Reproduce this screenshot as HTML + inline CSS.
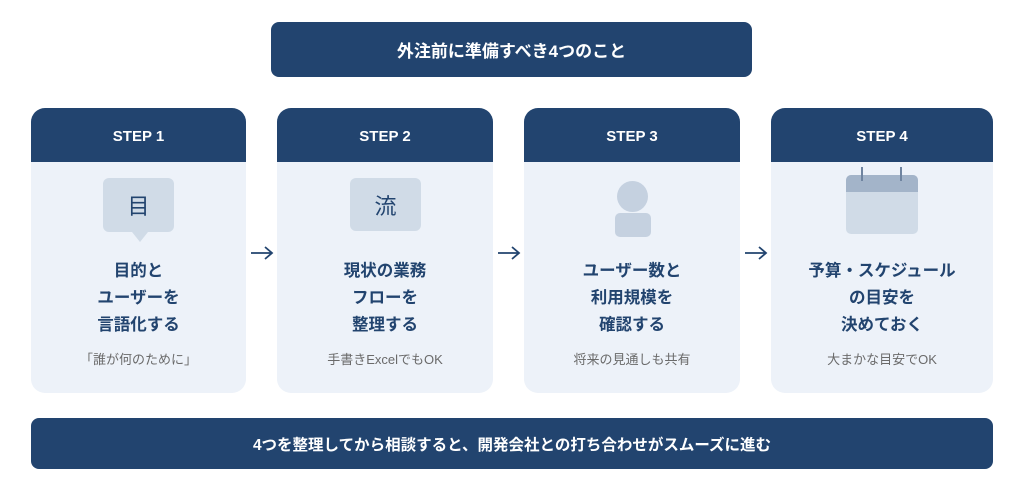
<!DOCTYPE html><html><head><meta charset="utf-8"><style>
*{margin:0;padding:0;box-sizing:border-box}
body{width:1024px;height:485px;background:#fff;font-family:"Liberation Sans","Noto Sans CJK JP",sans-serif;position:relative;overflow:hidden}
.ban{position:absolute;background:#22446f;color:#fff;font-weight:bold;display:flex;align-items:center;justify-content:center;border-radius:8px}
.card{position:absolute;top:108px;height:285px;background:#edf2f9;border-radius:14px;overflow:hidden}
.hd{height:54px;background:#22446f;color:#fff;font-weight:bold;font-size:15px;display:flex;align-items:center;justify-content:center;padding-top:3px}
.t{position:absolute;top:150px;left:0;right:0;text-align:center;color:#22446f;font-weight:bold;font-size:16.5px;line-height:27px}
.s{position:absolute;top:241px;left:0;right:0;text-align:center;color:#6a6a6a;font-size:13px}
.ar{position:absolute;top:245px}
.ic{position:absolute}
</style></head><body>
<div class="ban" style="left:271px;top:22px;width:481px;height:55px;font-size:17px">外注前に準備すべき4つのこと</div>
<div class="card" style="left:31px;width:215px"><div class="hd">STEP 1</div>
<div class="ic" style="left:72px;top:70px;width:71px;height:54px;background:#d0dbe7;border-radius:6px;color:#22446f;font-size:22px;display:flex;align-items:center;justify-content:center">目</div>
<div class="ic" style="left:101px;top:124px;width:0;height:0;border-left:8px solid transparent;border-right:8px solid transparent;border-top:10px solid #d0dbe7"></div>
<div class="t">目的と<br>ユーザーを<br>言語化する</div><div class="s">「誰が何のために」</div></div>
<svg class="ar" style="left:249px" width="26" height="16"><path d="M2 8H23M16 2L23 8L16 14" stroke="#22446f" stroke-width="1.8" fill="none"/></svg>
<div class="card" style="left:277px;width:216px"><div class="hd">STEP 2</div>
<div class="ic" style="left:73px;top:70px;width:71px;height:53px;background:#d0dbe7;border-radius:6px;color:#22446f;font-size:22px;display:flex;align-items:center;justify-content:center">流</div>
<div class="t">現状の業務<br>フローを<br>整理する</div><div class="s">手書きExcelでもOK</div></div>
<svg class="ar" style="left:496px" width="26" height="16"><path d="M2 8H23M16 2L23 8L16 14" stroke="#22446f" stroke-width="1.8" fill="none"/></svg>
<div class="card" style="left:524px;width:216px"><div class="hd">STEP 3</div>
<div class="ic" style="left:93px;top:73px;width:31px;height:31px;border-radius:50%;background:#c5d1e0"></div>
<div class="ic" style="left:91px;top:105px;width:36px;height:24px;border-radius:5px;background:#c5d1e0"></div>
<div class="t">ユーザー数と<br>利用規模を<br>確認する</div><div class="s">将来の見通しも共有</div></div>
<svg class="ar" style="left:743px" width="26" height="16"><path d="M2 8H23M16 2L23 8L16 14" stroke="#22446f" stroke-width="1.8" fill="none"/></svg>
<div class="card" style="left:771px;width:222px"><div class="hd">STEP 4</div>
<div class="ic" style="left:75px;top:67px;width:72px;height:59px;border-radius:5px;background:#d0dbe7;overflow:hidden"><div style="height:17px;background:#a3b4c9"></div></div>
<div class="ic" style="left:90px;top:59px;width:2px;height:14px;background:#6f84a0"></div>
<div class="ic" style="left:129px;top:59px;width:2px;height:14px;background:#6f84a0"></div>
<div class="t">予算・スケジュール<br>の目安を<br>決めておく</div><div class="s">大まかな目安でOK</div></div>
<div class="ban" style="left:31px;top:418px;width:962px;height:51px;font-size:15.5px">4つを整理してから相談すると、開発会社との打ち合わせがスムーズに進む</div>
</body></html>
